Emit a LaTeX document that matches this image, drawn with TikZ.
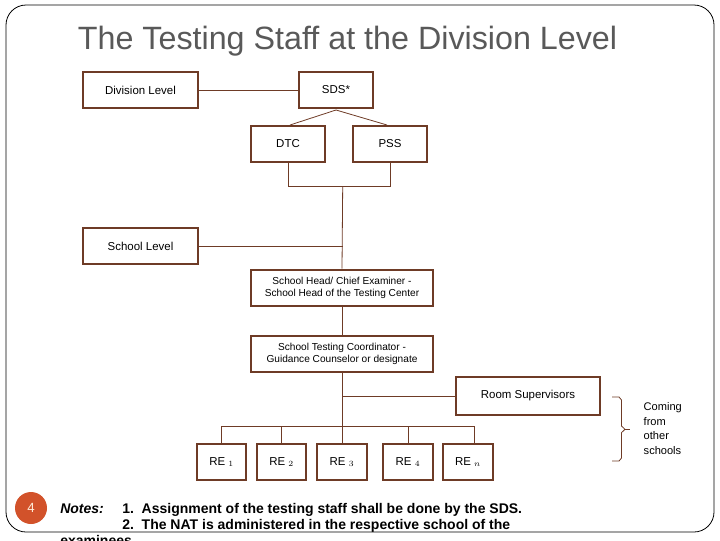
\documentclass[tikz,border=0pt]{standalone}
\usepackage{fontspec}
\setmainfont{Liberation Sans}
\usetikzlibrary{calc}
\definecolor{brn}{HTML}{6E3B26}
\definecolor{ttl}{HTML}{595959}
\definecolor{orng}{HTML}{D2522A}
\tikzset{
  box/.style={draw=brn, line width=1.5pt, fill=white, inner sep=1pt, align=center, font=\fontsize{8.6}{10}\selectfont, minimum height=27pt},
  twoline/.style={font=\fontsize{7.6}{9}\selectfont},
  conn/.style={draw=brn, line width=0.6pt},
  note/.style={anchor=base west, inner sep=0pt, font=\bfseries\fontsize{10.5}{12}\selectfont},
}
\begin{document}
\begin{tikzpicture}[x=0.75pt,y=-0.75pt]
\useasboundingbox (0,0) rectangle (720,540);
% slide frame
\draw[black, line width=0.6pt, rounded corners=15pt] (6,5) rectangle (714,532);
% title
\node[text=ttl, font=\fontsize{24.2}{28}\selectfont] (title) at (347.5,41) {The Testing Staff at the Division Level};
% boxes
\node[box, minimum width=86pt] (div) at (140.5,90) {Division Level};
\node[box, minimum width=55pt] (sds) at (336,90) {SDS*};
\node[box, minimum width=55pt] (dtc) at (288,144) {DTC};
\node[box, minimum width=55pt] (pss) at (390,144) {PSS};
\node[box, minimum width=86pt] (sch) at (140.5,246) {School Level};
\node[box, twoline, minimum width=136pt] (head) at (342,287.5) {School Head/ Chief Examiner -\\School Head of the Testing Center};
\node[box, twoline, minimum width=136pt] (stc) at (342,353.5) {School Testing Coordinator -\\Guidance Counselor or designate};
\node[box, minimum width=108pt, minimum height=28pt] (rs) at (528,396) {Room Supervisors};
\node[box, minimum width=37pt] (re1) at (221.7,462) {RE $_{1}$};
\node[box, minimum width=37pt] (re2) at (281.7,462) {RE $_{2}$};
\node[box, minimum width=37pt] (re3) at (342,462) {RE $_{3}$};
\node[box, minimum width=37pt] (re4) at (408,462) {RE $_{4}$};
\node[box, minimum width=37pt] (ren) at (468,462) {RE $_{n}$};
% connectors
\draw[conn] (div) -- (sds);
\draw[conn] ($(sds.south)+(0,1)$) -- ($(dtc.north)+(2,0)$);
\draw[conn] ($(sds.south)+(0,1)$) -- ($(pss.north)+(-3,0)$);
\coordinate (j1) at (342.7,186);
\draw[conn] (dtc.south) -- (dtc.south |- j1) -- (pss.south |- j1) -- (pss.south);
\draw[conn] (j1) -- (head.north);
\draw[conn] (sch.east) -- (sch.east -| j1);
\draw[conn] (head.south) -- (stc.north);
\coordinate (bus) at (342,426);
\draw[conn] (stc.south) -- (bus);
\draw[conn] (stc.south |- rs.west) -- (rs.west);
\draw[conn] (re1.north) -- (re1.north |- bus) -- (474.3,426) -- (474.3,443.3);
\draw[conn] (re2.north) -- (re2.north |- bus);
\draw[conn] (re3.north) -- (bus);
\draw[conn] (re4.north) -- (re4.north |- bus);
% brace
\coordinate (bt) at (612,397);
\coordinate (bb) at (612,461);
\draw[conn] (bt) -- (619,397) -- (621.5,400) -- (621.5,426) -- (625,429.3) -- (621.5,432.6) -- (621.5,458) -- (619,461) -- (bb);
\draw[conn] (625,429.3) -- (630,429.3);
\node[anchor=west, align=left, font=\fontsize{8.3}{10.8}\selectfont] (come) at (639,428.5) {Coming\\from\\other\\schools};
% page number
\node[circle, fill=orng, minimum size=24pt, inner sep=0pt, text=white!85!orange, font=\fontsize{10}{12}\selectfont] (pg) at (31,508) {4};
% notes
\node[note, font=\bfseries\itshape\fontsize{10.5}{12}\selectfont] (notes) at (60,513.5) {Notes:};
\node[note] (n1) at (122,513.5) {1.\ \ Assignment of the testing staff shall be done by the SDS.};
\node[note] (n2) at (122,529.5) {2.\ \ The NAT is administered in the respective school of the};
\begin{scope}
\clip (0,532) rectangle (720,540);
\node[note] (n3) at (60,545.5) {examinees.};
\end{scope}
\end{tikzpicture}
\end{document}
